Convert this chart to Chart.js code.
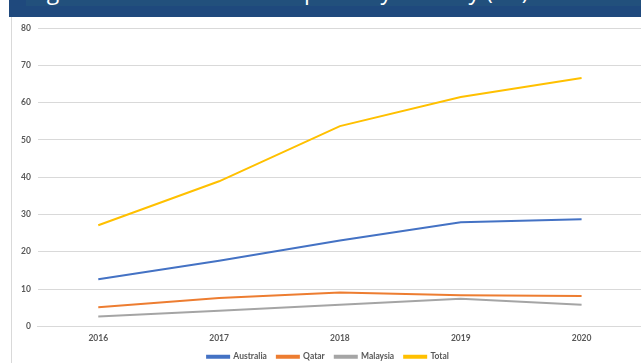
<!DOCTYPE html>
<html>
<head>
<meta charset="utf-8">
<script src="https://cdn.jsdelivr.net/npm/chart.js@4.4.0/dist/chart.umd.min.js"></script>
<style>
  body { margin: 0; width: 641px; height: 363px; overflow: hidden; background: #ffffff; position: relative; }
  #banner { position: absolute; left: 9px; top: 0; width: 632px; height: 17px; background: #1F497D; overflow: hidden; }
  #bannerInner { position: absolute; left: 17px; top: 0; right: 0; height: 6px; background: #22507C; }
  #title { position: absolute; left: 20px; top: -21px; font-family: "Open Sans", sans-serif; font-size: 23px; line-height: 23px; color: #ffffff; white-space: nowrap; }
  #frame { position: absolute; left: 11px; top: 17px; width: 1px; height: 346px; background: #d9d9d9; }
  #wrap { position: absolute; left: 14px; top: 16px; width: 640px; height: 357px; }
</style>
</head>
<body>
<div id="banner"><div id="bannerInner"></div><div id="title">Figure 4: Thailand LNG imports by country (Mt)</div></div>
<div id="frame"></div>
<div id="wrap"><canvas id="lngChart"></canvas></div>
<script>
//年份
var years = ['2016', '2017', '2018', '2019', '2020'];
//各國進口量 (Mt)
var australia = [12.6, 17.6, 23.0, 27.9, 28.7];
var qatar = [5.1, 7.6, 9.1, 8.3, 8.1];
var malaysia = [2.6, 4.2, 5.8, 7.4, 5.8];
var total = [27.1, 38.9, 53.7, 61.5, 66.6];
//y軸刻度
var yTicks = [0, 10, 20, 30, 40, 50, 60, 70, 80];

function lineSet(label, data, color) {
    return {
        label: label,
        data: data,
        borderColor: color,
        backgroundColor: color,
        borderWidth: 2,
        pointRadius: 0,
        tension: 0
    };
}

const labelFont = { family: 'Lato, "Liberation Sans", sans-serif', size: 8.5, weight: 'bold' };

const ctx = document.getElementById('lngChart');
new Chart(ctx, {
    type: 'line',
    data: {
        labels: years,
        datasets: [
            lineSet('Australia', australia, '#4472C4'),
            lineSet('Qatar', qatar, '#ED7D31'),
            lineSet('Malaysia', malaysia, '#A5A5A5'),
            lineSet('Total', total, '#FFC000')
        ]
    },
    options: {
        animation: false,
        responsive: true,
        maintainAspectRatio: false,
        layout: { padding: { top: 2, left: 0, right: 12, bottom: 2 } },
        plugins: {
            tooltip: { enabled: false },
            legend: {
                position: 'bottom',
                labels: {
                    boxWidth: 22,
                    boxHeight: 2,
                    padding: 10,
                    color: '#595959',
                    font: labelFont
                }
            }
        },
        scales: {
            x: {
                offset: true,
                grid: { display: false, drawTicks: false },
                border: { color: '#d9d9d9' },
                ticks: { padding: 7, color: '#595959', font: labelFont },
                afterFit: function (scale) { scale.height -= 8; }
            },
            y: {
                min: 0,
                max: 80,
                afterBuildTicks: function (axis) {
                    axis.ticks = yTicks.map(function (v) { return { value: v }; });
                },
                grid: { color: '#d9d9d9', drawTicks: false },
                border: { display: false },
                ticks: { padding: 7, color: '#595959', font: labelFont }
            }
        }
    }
});
</script>
</body>
</html>
